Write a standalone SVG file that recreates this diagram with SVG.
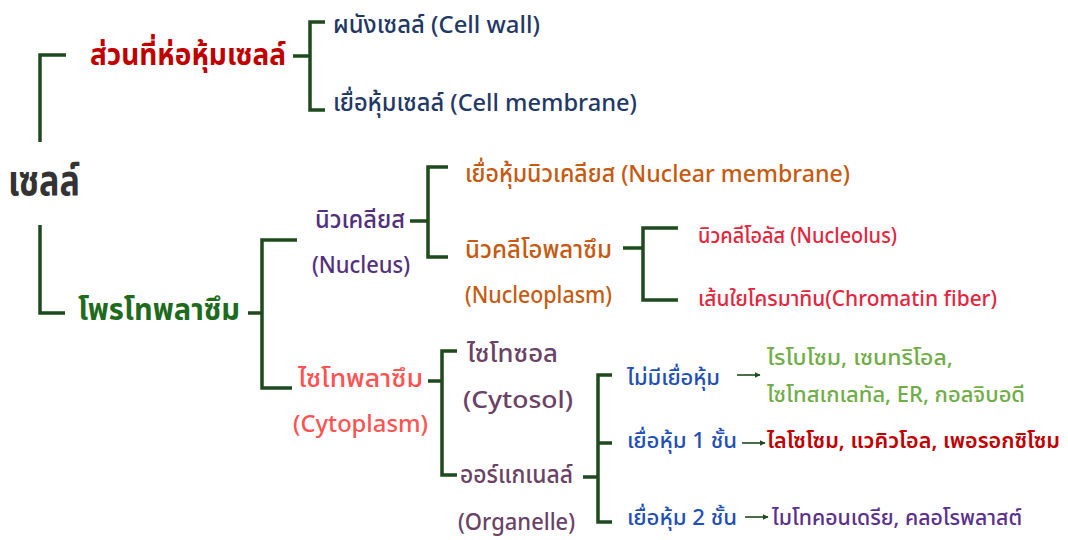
<svg xmlns="http://www.w3.org/2000/svg" width="1068" height="540" viewBox="0 0 1068 540">
<style>
text{font-family:"Noto Sans Thai","Noto Sans","DejaVu Sans",sans-serif;font-size:24px;font-weight:500}
.br{fill:none;stroke:#1e4a1e;stroke-width:3.5;stroke-linecap:butt}
.ar{fill:none;stroke:#1e4a1e;stroke-width:1.6}
.b{font-weight:bold}
.sb{font-weight:600}
.s{font-size:21px}
.h{font-size:30px}
.xl{font-size:42px}
</style>
<defs>
<marker id="ah" viewBox="0 0 10 10" refX="9" refY="5" markerWidth="6" markerHeight="6" orient="auto" markerUnits="userSpaceOnUse">
<path d="M0,0 L10,5 L0,10 z" fill="#1e4a1e"/>
</marker>
</defs>
<rect width="1068" height="540" fill="#fff"/>
<g id="connectors">
<path class="br" d="M66,55 H40 V142 M40,225 V313 H65"/>
<path class="br" d="M293,56 H310 M325,22 H310 V110 H325"/>
<path class="br" d="M248,313 H262 M297,240 H262 V388 H292"/>
<path class="br" d="M410,221 H428 M448,167 H428 V257 H448"/>
<path class="br" d="M623,248 H643 M678,228 H643 V300 H678"/>
<path class="br" d="M428,381 H442 M457,351 H442 V475 H457"/>
<path class="br" d="M583,477 H598 M612,375 H598 V522 H612 M598,443 H612"/>
<path class="ar" d="M737,375 H760" marker-end="url(#ah)"/>
<path class="ar" d="M742,443 H765" marker-end="url(#ah)"/>
<path class="ar" d="M745,517 H768" marker-end="url(#ah)"/>
</g>
<g id="cell"><text class="xl b" x="8" y="195" fill="#333" textLength="72" lengthAdjust="spacingAndGlyphs">เซลล์</text></g>
<g id="envelope"><text class="b h" x="90" y="65" fill="#c00000" textLength="196" lengthAdjust="spacingAndGlyphs">ส่วนที่ห่อหุ้มเซลล์</text></g>
<g id="cellwall"><text x="333" y="33" fill="#1f3864" textLength="207" lengthAdjust="spacingAndGlyphs">ผนังเซลล์ (Cell wall)</text></g>
<g id="cellmembrane"><text x="333" y="111" fill="#1f3864" textLength="304" lengthAdjust="spacingAndGlyphs">เยื่อหุ้มเซลล์ (Cell membrane)</text></g>
<g id="protoplasm"><text class="b h" x="78" y="320" fill="#1e6b1e" textLength="162" lengthAdjust="spacingAndGlyphs">โพรโทพลาซึม</text></g>
<g id="nucleus" fill="#52307c">
<text x="315" y="228" textLength="90" lengthAdjust="spacingAndGlyphs">นิวเคลียส</text>
<text x="312" y="273" textLength="98" lengthAdjust="spacingAndGlyphs">(Nucleus)</text>
</g>
<g id="nuclearmembrane"><text x="465" y="182" fill="#c55a11" textLength="385" lengthAdjust="spacingAndGlyphs">เยื่อหุ้มนิวเคลียส (Nuclear membrane)</text></g>
<g id="nucleoplasm" fill="#c55a11">
<text x="465" y="258" textLength="147" lengthAdjust="spacingAndGlyphs">นิวคลีโอพลาซึม</text>
<text x="465" y="303" textLength="147" lengthAdjust="spacingAndGlyphs">(Nucleoplasm)</text>
</g>
<g id="nucleolus"><text class="s" x="698" y="243" fill="#e2263e" textLength="199" lengthAdjust="spacingAndGlyphs">นิวคลีโอลัส (Nucleolus)</text></g>
<g id="chromatin"><text class="s" x="698" y="306" fill="#e2263e" textLength="299" lengthAdjust="spacingAndGlyphs">เส้นใยโครมาทิน(Chromatin fiber)</text></g>
<g id="cytoplasm" fill="#ff5252">
<text x="298" y="387" textLength="125" lengthAdjust="spacingAndGlyphs">ไซโทพลาซึม</text>
<text x="293" y="432" textLength="135" lengthAdjust="spacingAndGlyphs">(Cytoplasm)</text>
</g>
<g id="cytosol" fill="#6a4266">
<text x="467" y="362" textLength="91" lengthAdjust="spacingAndGlyphs">ไซโทซอล</text>
<text x="463" y="408" textLength="110" lengthAdjust="spacingAndGlyphs">(Cytosol)</text>
</g>
<g id="organelle" fill="#6a4266">
<text x="460" y="483" textLength="113" lengthAdjust="spacingAndGlyphs">ออร์แกเนลล์</text>
<text x="458" y="530" textLength="117" lengthAdjust="spacingAndGlyphs">(Organelle)</text>
</g>
<g id="nomembrane"><text class="s" x="627" y="385" fill="#1f4fb5" textLength="93" lengthAdjust="spacingAndGlyphs">ไม่มีเยื่อหุ้ม</text></g>
<g id="nomembrane-list" fill="#70ad47">
<text class="s" x="767" y="365" textLength="186" lengthAdjust="spacingAndGlyphs">ไรโบโซม, เซนทริโอล,</text>
<text class="s" x="767" y="402" textLength="258" lengthAdjust="spacingAndGlyphs">ไซโทสเกเลทัล, ER, กอลจิบอดี</text>
</g>
<g id="onemembrane"><text class="s" x="627" y="448" fill="#1f4fb5" textLength="110" lengthAdjust="spacingAndGlyphs">เยื่อหุ้ม 1 ชั้น</text></g>
<g id="onemembrane-list"><text class="s sb" x="767" y="448" fill="#c00000" textLength="293" lengthAdjust="spacingAndGlyphs">ไลโซโซม, แวคิวโอล, เพอรอกซิโซม</text></g>
<g id="twomembrane"><text class="s" x="627" y="525" fill="#1f4fb5" textLength="110" lengthAdjust="spacingAndGlyphs">เยื่อหุ้ม 2 ชั้น</text></g>
<g id="twomembrane-list"><text class="s" x="772" y="525" fill="#5b2f8c" textLength="250" lengthAdjust="spacingAndGlyphs">ไมโทคอนเดรีย, คลอโรพลาสต์</text></g>
</svg>
